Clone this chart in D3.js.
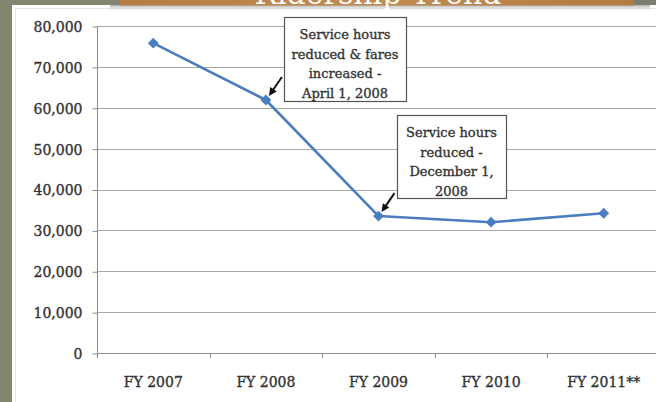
<!DOCTYPE html>
<html>
<head>
<meta charset="utf-8">
<script src="https://cdn.jsdelivr.net/npm/d3@7"></script>
<style>
  html, body { margin: 0; padding: 0; background: #7e8171; }
  svg { display: block; }
</style>
</head>
<body>
<div id="chart"></div>
<script>
const categories = ["FY 2007", "FY 2008", "FY 2009", "FY 2010", "FY 2011**"];
const ridership = [75800, 61900, 33500, 32000, 34200];
const yTicks = [0, 10000, 20000, 30000, 40000, 50000, 60000, 70000, 80000];
const title = "Ridership Trend";
const note1 = ["Service hours", "reduced & fares", "increased -", "April 1, 2008"];
const note2 = ["Service hours", "reduced -", "December 1,", "2008"];

const W = 656, H = 402;
const svg = d3.select("#chart").append("svg").attr("width", W).attr("height", H);
const defs = svg.append("defs");

const bg = defs.append("linearGradient").attr("id", "bg").attr("x1", 0).attr("x2", 1);
bg.append("stop").attr("offset", 0).attr("stop-color", "#83866f");
bg.append("stop").attr("offset", 1).attr("stop-color", "#7b7e6e");
svg.append("rect").attr("width", W).attr("height", H).attr("fill", "url(#bg)");

// white panel
svg.append("rect").attr("x", 12).attr("y", 5).attr("width", 660).attr("height", 410)
  .attr("fill", "#ffffff");
svg.append("rect").attr("x", 15.5).attr("y", 8.5).attr("width", 660).attr("height", 410)
  .attr("fill", "none").attr("stroke", "#e4e4e4");

// banner with shadow
const sh = defs.append("linearGradient").attr("id", "sh").attr("x1", 0).attr("x2", 0).attr("y1", 0).attr("y2", 1);
sh.append("stop").attr("offset", 0).attr("stop-color", "#9a9a9a").attr("stop-opacity", 0.8);
sh.append("stop").attr("offset", 1).attr("stop-color", "#ffffff").attr("stop-opacity", 0);
svg.append("rect").attr("x", 110).attr("y", 5).attr("width", 540).attr("height", 7).attr("fill", "url(#sh)");
const br = defs.append("linearGradient").attr("id", "br").attr("x1", 0).attr("x2", 1);
br.append("stop").attr("offset", 0).attr("stop-color", "#b57d44");
br.append("stop").attr("offset", 0.5).attr("stop-color", "#c18c52");
br.append("stop").attr("offset", 1).attr("stop-color", "#b37a42");
svg.append("rect").attr("x", 120).attr("y", -10).attr("width", 514).attr("height", 15.5)
  .attr("fill", "url(#br)");
svg.append("text").attr("x", 378).attr("y", 4).attr("text-anchor", "middle")
  .attr("font-family", "DejaVu Serif").attr("font-size", 30).attr("fill", "#ffffff")
  .text(title);

// scales
const x = d3.scaleBand().domain(categories).range([97, 660]).padding(0);
const y = d3.scaleLinear().domain([0, 80000]).range([353, 26]);
const fmt = d3.format(",");

// gridlines
svg.append("g").selectAll("line").data(yTicks.filter(d => d > 0)).join("line")
  .attr("x1", 97).attr("x2", W).attr("y1", d => Math.round(y(d)) + 0.5).attr("y2", d => Math.round(y(d)) + 0.5)
  .attr("stroke", "#a8a8a8").attr("stroke-width", 1);

const textStyle = sel => sel.attr("font-family", "DejaVu Serif").attr("fill", "#333333")
  .attr("stroke", "#333333").attr("stroke-width", 0.35);

// y axis
const yAxis = svg.append("g").attr("transform", "translate(97.5,0.5)")
  .call(d3.axisLeft(y).tickValues(yTicks).tickFormat(fmt).tickSize(5).tickPadding(10));
yAxis.select(".domain").attr("stroke", "#8c8c8c").attr("d", `M0,${y(80000)}V${y(0)}`);
yAxis.selectAll(".tick line").attr("stroke", "#8c8c8c");
yAxis.selectAll(".tick text").call(textStyle).attr("font-size", 14).attr("dy", "0.35em");

// x axis
const xAxis = svg.append("g").attr("transform", `translate(0,${Math.round(y(0)) + 0.5})`)
  .call(d3.axisBottom(x).tickSize(0).tickPadding(24));
xAxis.select(".domain").attr("stroke", "#8c8c8c").attr("d", `M97,0H${W}`);
xAxis.selectAll(".tick text").call(textStyle).attr("font-size", 14);
svg.append("g").selectAll("line").data(categories).join("line")
  .attr("x1", d => Math.round(x(d)) + 0.5).attr("x2", d => Math.round(x(d)) + 0.5)
  .attr("y1", Math.round(y(0))).attr("y2", Math.round(y(0)) + 5)
  .attr("stroke", "#8c8c8c");

// line + markers
const cx = (d, i) => x(categories[i]) + x.bandwidth() / 2;
const line = d3.line().x(cx).y(d => y(d));
svg.append("path").datum(ridership).attr("d", line)
  .attr("fill", "none").attr("stroke", "#4a7ebf").attr("stroke-width", 2.6)
  .attr("stroke-linejoin", "round");
svg.append("g").selectAll("path").data(ridership).join("path")
  .attr("d", d3.symbol(d3.symbolDiamond2, 75))
  .attr("transform", (d, i) => `translate(${cx(d, i)},${y(d)})`)
  .attr("fill", "#4a7ebf");

// annotations
function note(lines, bx, by, bw, bh, idx) {
  const g = svg.append("g");
  g.append("rect").attr("x", bx + 0.5).attr("y", by + 0.5).attr("width", bw).attr("height", bh)
    .attr("fill", "#ffffff").attr("stroke", "#555555").attr("stroke-width", 1.2);
  g.selectAll("text").data(lines).join("text")
    .attr("x", bx + bw / 2).attr("y", (d, i) => by + 22 + i * 19.5)
    .attr("text-anchor", "middle").call(textStyle).attr("font-size", 13)
    .text(d => d);
  const px = cx(ridership[idx], idx), py = y(ridership[idx]);
  const tx = px + 3, ty = py - 4;
  const sx = tx + 13, sy = ty - 19;
  g.append("line").attr("x1", sx).attr("y1", sy).attr("x2", tx + 2).attr("y2", ty - 3)
    .attr("stroke", "#111").attr("stroke-width", 2);
  const ang = Math.atan2(ty - sy, tx - sx);
  const L = 9, a = 0.45;
  g.append("path")
    .attr("d", `M${tx},${ty}L${tx - L * Math.cos(ang - a)},${ty - L * Math.sin(ang - a)}L${tx - L * Math.cos(ang + a)},${ty - L * Math.sin(ang + a)}Z`)
    .attr("fill", "#111");
}
note(note1, 284, 17, 122, 84, 1);
note(note2, 397, 115, 109, 83, 2);
</script>
</body>
</html>
